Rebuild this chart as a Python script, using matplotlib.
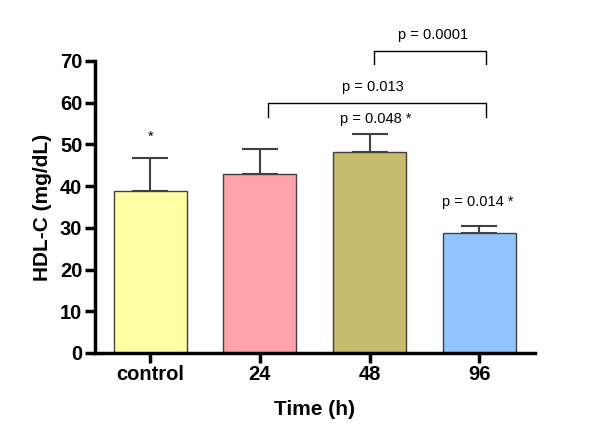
import numpy as np
import matplotlib
matplotlib.use("Agg")
import matplotlib.pyplot as plt

plt.rcParams["font.family"] = ["Liberation Sans", "DejaVu Sans"]

groups = ["control", "24", "48", "96"]
means = [38.9, 42.8, 48.3, 28.8]
sem = [7.8, 6.2, 4.3, 1.7]
colors = ["#FFFFA3", "#FFA3AA", "#C8BB70", "#91C4FF"]

# brackets: (x left, x right, height, tick bottom, label x, label y, label)
brackets = [
    (2.04, 3.06, 72.5, 69.2, 2.58, 76.3, "p = 0.0001"),
    (1.07, 3.06, 59.9, 56.5, 2.03, 63.7, "p = 0.013"),
]
# free annotations: (x, y, text)
notes = [
    (0, 51.8, "*"),
    (2.06, 56.2, "p = 0.048 *"),
    (2.99, 36.3, "p = 0.014 *"),
]

fig = plt.figure(figsize=(6, 4.42), dpi=100)
ax = fig.add_axes([0.158, 0.2014, 0.734, 0.6606])

x = np.arange(len(groups))
ax.bar(x, means, width=0.667, color=colors, edgecolor="#404040", linewidth=1.0, zorder=2)
ax.errorbar(x, means, yerr=[np.zeros(len(sem)), sem], fmt="none", ecolor="#404040",
            elinewidth=1.5, capsize=13, capthick=1.5, zorder=1)

for a, b, h, lo, tx, ty, lab in brackets:
    ax.plot([a, a, b, b], [lo, h, h, lo], color="black", lw=1.0, clip_on=False)
    ax.text(tx, ty, lab, ha="center", va="center", fontsize=10.5, clip_on=False)
for xx, yy, t in notes:
    ax.text(xx, yy, t, ha="center", va="center", fontsize=10.5)

ax.set_xlim(-0.505, 3.51)
ax.set_ylim(0, 70)
ax.set_yticks(range(0, 71, 10))
ax.set_xticks(x)
ax.set_xticklabels(groups)
for s in ["top", "right"]:
    ax.spines[s].set_visible(False)
for s in ["left", "bottom"]:
    ax.spines[s].set_linewidth(2.5)
ax.tick_params(width=2.5, length=7, labelsize=14.5, pad=2)
for lab in ax.get_xticklabels() + ax.get_yticklabels():
    lab.set_fontweight("bold")
ax.set_xlabel("Time (h)", fontsize=15, fontweight="bold", labelpad=11)
ax.set_ylabel("HDL-C (mg/dL)", fontsize=15, fontweight="bold", labelpad=6)

fig.savefig("out.png", dpi=100)
